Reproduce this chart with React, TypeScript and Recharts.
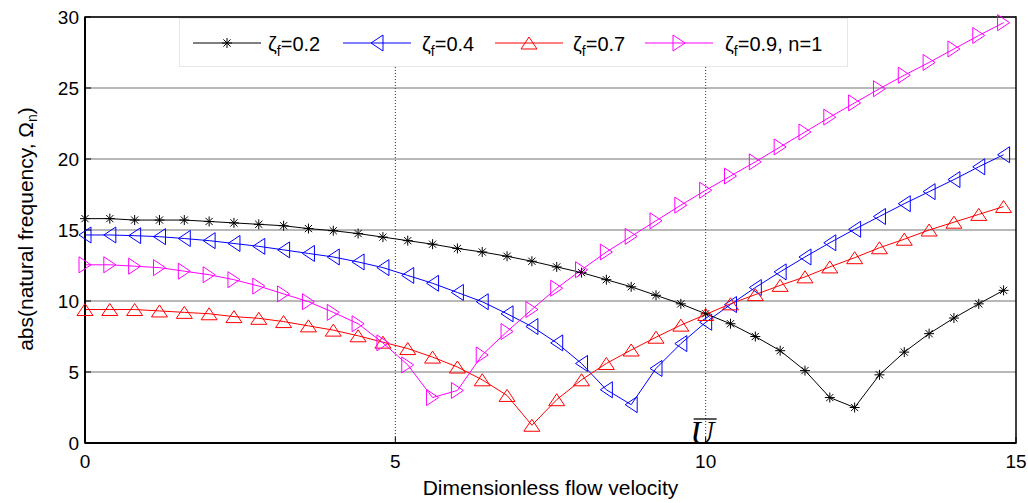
import React from 'react';
import {
  LineChart,
  Line,
  XAxis,
  YAxis,
  CartesianGrid,
  ReferenceLine,
  ReferenceArea,
  ReferenceDot,
  Legend,
} from 'recharts';

// flow velocity samples (x)
const velocity = [
  0, 0.4, 0.8, 1.2, 1.6, 2, 2.4, 2.8, 3.2, 3.6, 4, 4.4, 4.8,
  5.2, 5.6, 6, 6.4, 6.8, 7.2, 7.6, 8, 8.4, 8.8, 9.2, 9.6,
  10, 10.4, 10.8, 11.2, 11.6, 12, 12.4, 12.8, 13.2, 13.6, 14, 14.4, 14.8,
];

// |Omega_n| for each damping ratio
const zeta02 = [
  15.8, 15.8, 15.7, 15.7, 15.7, 15.6, 15.5, 15.4, 15.3, 15.1, 14.95, 14.75, 14.5,
  14.25, 14.0, 13.7, 13.45, 13.15, 12.8, 12.4, 12.0, 11.5, 11.0, 10.4, 9.8,
  9.1, 8.4, 7.5, 6.5, 5.1, 3.2, 2.5, 4.8, 6.4, 7.7, 8.8, 9.8, 10.75,
];
const zeta04 = [
  14.65, 14.65, 14.6, 14.53, 14.4, 14.25, 14.05, 13.85, 13.6, 13.35, 13.1, 12.75, 12.35,
  11.8, 11.25, 10.6, 9.95, 9.1, 8.2, 7.05, 5.6, 3.75, 2.7, 5.25, 7.0,
  8.5, 9.75, 10.95, 12.05, 13.1, 14.1, 15.05, 15.95, 16.85, 17.7, 18.55, 19.45, 20.3,
];
const zeta07 = [
  9.4, 9.4, 9.4, 9.3, 9.2, 9.1, 8.9, 8.78, 8.55, 8.25, 7.95, 7.55, 7.1,
  6.65, 6.05, 5.35, 4.45, 3.35, 1.25, 3.05, 4.45, 5.6, 6.55, 7.45, 8.3,
  9.05, 9.8, 10.45, 11.1, 11.7, 12.4, 13.05, 13.75, 14.35, 15.0, 15.55, 16.1, 16.65,
];
const zeta09 = [
  12.55, 12.55, 12.45, 12.35, 12.1, 11.85, 11.5, 11.05, 10.5, 9.95, 9.2, 8.4, 7.05,
  5.5, 3.2, 3.7, 6.2, 7.85, 9.4, 10.9, 12.2, 13.45, 14.55, 15.65, 16.75,
  17.8, 18.8, 19.8, 20.85, 21.9, 22.95, 23.95, 24.95, 25.9, 26.8, 27.75, 28.7, 29.6,
];

const xTicks = [0, 5, 10, 15];
const yTicks = [0, 5, 10, 15, 20, 25, 30];
const markedVelocities = [5, 10];
const legendLabels = ['0.2', '0.4', '0.7', '0.9, n=1'];

const rows = velocity.map((u, i) => ({
  u,
  z02: zeta02[i],
  z04: zeta04[i],
  z07: zeta07[i],
  z09: zeta09[i],
}));

const FONT = '"Liberation Sans", Arial, sans-serif';

// matlab style markers
const Star = ({ cx, cy, color = '#000' }) => (
  <g stroke={color} strokeWidth={1}>
    <line x1={cx - 5} y1={cy} x2={cx + 5} y2={cy} />
    <line x1={cx} y1={cy - 5} x2={cx} y2={cy + 5} />
    <line x1={cx - 3.6} y1={cy - 3.6} x2={cx + 3.6} y2={cy + 3.6} />
    <line x1={cx - 3.6} y1={cy + 3.6} x2={cx + 3.6} y2={cy - 3.6} />
  </g>
);

const TriLeft = ({ cx, cy, color = '#00f' }) => (
  <polygon
    points={`${cx - 6},${cy} ${cx + 6},${cy - 8} ${cx + 6},${cy + 8}`}
    fill="none"
    stroke={color}
    strokeWidth={1}
  />
);

const TriUp = ({ cx, cy, color = '#f00' }) => (
  <polygon
    points={`${cx},${cy - 6} ${cx + 8},${cy + 6} ${cx - 8},${cy + 6}`}
    fill="none"
    stroke={color}
    strokeWidth={1}
  />
);

const TriRight = ({ cx, cy, color = '#f0f' }) => (
  <polygon
    points={`${cx + 6},${cy} ${cx - 6},${cy - 8} ${cx - 6},${cy + 8}`}
    fill="none"
    stroke={color}
    strokeWidth={1}
  />
);

const series = [
  { key: 'z02', color: '#000000', Marker: Star },
  { key: 'z04', color: '#0000ff', Marker: TriLeft },
  { key: 'z07', color: '#ff0000', Marker: TriUp },
  { key: 'z09', color: '#ff00ff', Marker: TriRight },
];

// legend slot offsets inside the box: line start, text start
const legendSlots = [
  { line: 14, text: 89 },
  { line: 164, text: 243 },
  { line: 316, text: 394 },
  { line: 466, text: 546 },
];

const renderLegend = () => (
  <svg width={669} height={49} style={{ display: 'block' }}>
    <rect x={0.5} y={0.5} width={668} height={48} fill="#fff" stroke="#e6e6e6" />
    {series.map((s, i) => {
      const slot = legendSlots[i];
      const Marker = s.Marker;
      return (
        <g key={s.key}>
          <line x1={slot.line} x2={slot.line + 68} y1={25} y2={25} stroke={s.color} strokeWidth={1} />
          <Marker cx={slot.line + 34} cy={25} color={s.color} />
          <text x={slot.text} y={33} fontSize={20} fontFamily={FONT} fill="#000">
            <tspan>ζ</tspan>
            <tspan fontSize={14} dy={5}>f</tspan>
            <tspan dy={-5}>={legendLabels[i]}</tspan>
          </text>
        </g>
      );
    })}
  </svg>
);

const YTitle = (props) => {
  const vb = props.viewBox || { x: 0, y: 17, width: 85, height: 426 };
  const cx = 33;
  const cy = vb.y + vb.height / 2 - 1;
  return (
    <text
      x={cx}
      y={cy}
      transform={`rotate(-90, ${cx}, ${cy})`}
      textAnchor="middle"
      fontSize={21}
      fontFamily={FONT}
      fill="#000"
    >
      abs(natural frequency, Ω
      <tspan fontSize={14} dy={4}>n</tspan>
      <tspan dy={-4}>)</tspan>
    </text>
  );
};

// critical velocity marker sitting on the x axis
const UBar = ({ cx, cy }) => (
  <g>
    <text
      x={cx - 3.5}
      y={cy + 1}
      textAnchor="middle"
      fontSize={33}
      fontStyle="italic"
      fontFamily='"Liberation Serif", "Times New Roman", serif'
      fill="#000"
    >
      U
    </text>
    <line x1={cx - 12} x2={cx + 11} y1={cy - 24} y2={cy - 24} stroke="#000" strokeWidth={1.3} />
  </g>
);

export default function App() {
  const tickStyle = { fill: '#000', fontSize: 19, fontFamily: FONT };
  return (
    <div style={{ position: 'absolute', left: 0, top: 0, width: 1028, height: 503, background: '#fff' }}>
      <LineChart
        width={1028}
        height={503}
        data={rows}
        margin={{ top: 17, right: 12, bottom: 0, left: 0 }}
        style={{ fontFamily: FONT }}
      >
        <CartesianGrid vertical={false} stroke="#a0a0a0" strokeWidth={1.5} />
        {markedVelocities.map((v) => (
          <ReferenceLine key={v} x={v} stroke="#333" strokeWidth={1} strokeDasharray="1 2" />
        ))}
        <XAxis
          dataKey="u"
          type="number"
          domain={[0, 15]}
          ticks={xTicks}
          height={60}
          tick={tickStyle}
          tickSize={-6}
          tickMargin={18}
          tickLine={{ stroke: '#000' }}
          axisLine={{ stroke: '#000', strokeWidth: 2 }}
          label={{
            value: 'Dimensionless flow velocity',
            position: 'insideBottom',
            offset: 8,
            fill: '#000',
            fontSize: 21,
            fontFamily: FONT,
          }}
        />
        <YAxis
          type="number"
          domain={[0, 30]}
          ticks={yTicks}
          width={85}
          tick={tickStyle}
          tickSize={-6}
          tickMargin={12}
          tickLine={{ stroke: '#000' }}
          axisLine={{ stroke: '#000', strokeWidth: 2 }}
          label={YTitle}
        />
        <ReferenceArea x1={0} x2={15} y1={0} y2={30} fill="none" stroke="#000" strokeWidth={1.5} />
        {series.map((s) => {
          const Marker = s.Marker;
          return (
            <Line
              key={s.key}
              dataKey={s.key}
              stroke={s.color}
              strokeWidth={1}
              isAnimationActive={false}
              dot={(p) => <Marker key={`${s.key}-${p.index}`} cx={p.cx} cy={p.cy} color={s.color} />}
              activeDot={false}
              legendType="none"
            />
          );
        })}
        <ReferenceDot x={10} y={0} r={0} shape={UBar} />
        <Legend
          content={renderLegend}
          layout="vertical"
          align="center"
          verticalAlign="middle"
          wrapperStyle={{ left: 179, top: 18, width: 669, height: 49 }}
        />
      </LineChart>
    </div>
  );
}
